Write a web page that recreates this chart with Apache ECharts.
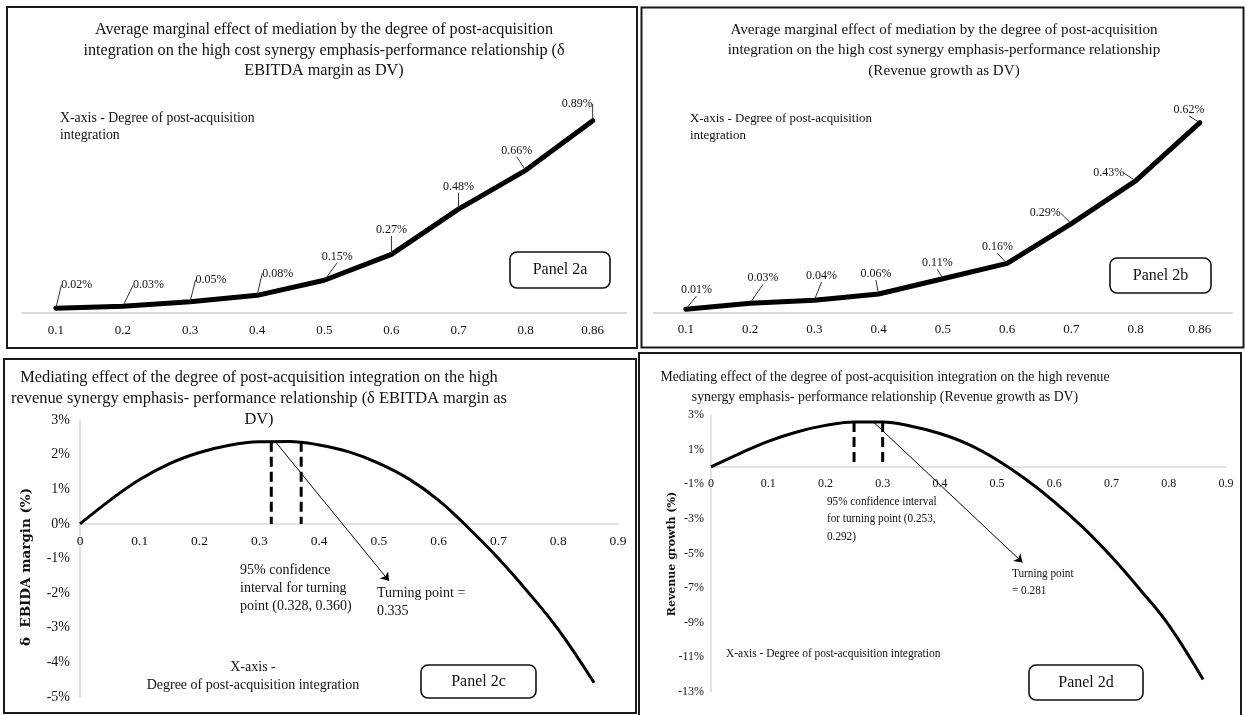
<!DOCTYPE html>
<html><head><meta charset="utf-8">
<script src="https://cdn.jsdelivr.net/npm/echarts@6/dist/echarts.min.js"></script>
<style>html,body{margin:0;padding:0;background:#fff}#c{width:1247px;height:715px}</style>
</head><body><div id="c"></div>
<script>
// ---------- data ----------
const categoriesAB = ['0.1','0.2','0.3','0.4','0.5','0.6','0.7','0.8','0.86'];
const valuesA = [0.02, 0.03, 0.05, 0.08, 0.15, 0.27, 0.48, 0.66, 0.89];
const valuesB = [0.01, 0.03, 0.04, 0.06, 0.11, 0.16, 0.29, 0.43, 0.62];
const curveC = [[0,0],[0.05,0.68],[0.1,1.28],[0.15,1.74],[0.2,2.06],[0.25,2.27],[0.3,2.37],[0.35,2.38],[0.4,2.28],[0.45,2.08],[0.5,1.75],[0.55,1.3],[0.6,0.68],[0.65,-0.12],[0.7,-1.0],[0.75,-1.98],[0.8,-3.05],[0.86,-4.59]];
const curveD = [[0,0],[0.05,0.77],[0.1,1.48],[0.15,2.02],[0.2,2.4],[0.25,2.6],[0.3,2.6],[0.35,2.35],[0.4,1.93],[0.45,1.3],[0.5,0.4],[0.55,-0.72],[0.6,-2.02],[0.65,-3.5],[0.7,-5.2],[0.75,-7.1],[0.8,-9.15],[0.86,-12.3]];
const ciXC = [0.32, 0.37];   const ciTopC = 2.37;
const ciXD = [0.25, 0.30];   const ciTopD = 2.6;
const arrowC = [[0.327, 2.37], [0.517, -1.65]];
const arrowD = [[0.283, 2.62], [0.5445, -5.53]];
const yTicksC = {min:-5, max:3, interval:1};
const yTicksD = {min:-13, max:3, interval:2};

// ---------- styling ----------
const SERIF = '"Liberation Serif", "Times New Roman", serif';
const offA = [[21,-23],[25.6,-21],[21,-22],[20.5,-22],[13,-23.6],[0,-24.4],[0,-22.4],[-9,-19.6],[-15.6,-16.7]];
const offB = [[10.6,-19.3],[12.9,-24.9],[7.2,-24.2],[-2.7,-20],[-5.5,-15.4],[-9.7,-16.1],[-26.1,-10.4],[-26.9,-7.5],[-10.8,-12.7]];
const AXIS_GRAY = '#d9d9d9';

function txt(x, y, text, size, opts) {
  opts = opts || {};
  return { type:'text', x:x, y:y, rotation: opts.rotation || 0, scaleX: opts.sx || 1, z: 50,
    style:{ text:text, fill:'#111', fontFamily: opts.family || SERIF, fontSize:size,
      fontWeight: opts.weight || 'normal', textAlign: opts.align || 'left',
      textVerticalAlign: opts.valign || 'top', lineHeight: opts.lh || size*1.2 } };
}
function border(x, y, w, h) {
  return { type:'rect', z: 40, shape:{x:x, y:y, width:w, height:h},
    style:{ fill:'none', stroke:'#1a1a1a', lineWidth:2 } };
}
function panelBox(x, y, w, h, label) {
  return [
    { type:'rect', z:40, shape:{x:x, y:y, width:w, height:h, r:7}, style:{fill:'#fff', stroke:'#111', lineWidth:1.6} },
    txt(x + w/2, y + h/2, label, 16, {align:'center', valign:'middle'})
  ];
}

function catX(gi) {
  return { type:'category', gridIndex:gi, data:categoriesAB, boundaryGap:true,
    axisTick:{show:false}, axisLine:{lineStyle:{color:AXIS_GRAY, width:2}},
    axisLabel:{color:'#111', fontFamily:SERIF, fontSize:13, margin:11} };
}
function valX(gi, size, margin, offset) {
  return { type:'value', gridIndex:gi, min:0, max:0.9, interval:0.1, offset:offset,
    axisTick:{show:false}, splitLine:{show:false},
    axisLine:{onZero:false, lineStyle:{color:AXIS_GRAY, width:1.5}},
    axisLabel:{color:'#111', fontFamily:SERIF, fontSize:size, margin:margin, showMaxLabel:true,
      formatter: v => String(Math.round(v*10)/10)} };
}
function valY(gi, t, size, margin) {
  return { type:'value', gridIndex:gi, min:t.min, max:t.max, interval:t.interval,
    axisTick:{show:false}, splitLine:{show:false},
    axisLine:{show:true, onZero:false, lineStyle:{color:AXIS_GRAY, width:1.5}},
    axisLabel:{color:'#111', fontFamily:SERIF, fontSize:size, margin:margin, formatter:'{value}%'} };
}
function dashSeries(xi, x, top) {
  return { type:'line', xAxisIndex:xi, yAxisIndex:xi, data:[[x, top],[x, 0]], symbol:'none', silent:true,
    lineStyle:{color:'#000', width:3, type:[10,5]}, z:3 };
}
function labelSeries(xi, vals, off, size) {
  return { type:'line', xAxisIndex:xi, yAxisIndex:xi, data:vals, symbol:'circle', symbolSize:2,
    showSymbol:true, silent:true, itemStyle:{color:'#000'},
    lineStyle:{color:'#000', width:5, cap:'round', join:'round'},
    label:{show:true, position:'inside', color:'#111', fontFamily:SERIF, fontSize:size,
      formatter: p => p.value.toFixed(2) + '%'},
    labelLayout: p => ({dx: off[p.dataIndex][0], dy: off[p.dataIndex][1]}),
    labelLine:{show:true, lineStyle:{color:'#333', width:1}},
    emphasis:{disabled:true} };
}
function arrowMark(pts) {
  return { silent:true, symbol:['none','arrow'], symbolSize:8, label:{show:false},
    lineStyle:{color:'#000', width:1, type:'solid'}, emphasis:{disabled:true},
    data:[[{coord:pts[0]},{coord:pts[1]}]] };
}

const graphics = [
  border(7, 7, 630, 341), border(641.5, 7.5, 602, 340), border(4, 359, 632, 354), border(639, 353, 602, 370),
  txt(324, 19.8, 'Average marginal effect of mediation by the degree of post-acquisition\nintegration on the high cost synergy emphasis-performance relationship (δ\nEBITDA margin as DV)', 16.2, {align:'center', lh:20.4}),
  txt(944, 19.8, 'Average marginal effect of mediation by the degree of post-acquisition\nintegration on the high cost synergy emphasis-performance relationship\n(Revenue growth as DV)', 15.1, {align:'center', lh:20.4}),
  txt(259, 367.5, 'Mediating effect of the degree of post-acquisition integration on the high\nrevenue synergy emphasis- performance relationship (δ EBITDA margin as\nDV)', 16.4, {align:'center', lh:21}),
  txt(885, 367, 'Mediating effect of the degree of post-acquisition integration on the high revenue\nsynergy emphasis- performance relationship (Revenue growth as DV)', 13.8, {align:'center', lh:20}),
  txt(60, 109.5, 'X-axis - Degree of post-acquisition\nintegration', 13.8, {lh:17.5}),
  txt(690, 109.5, 'X-axis - Degree of post-acquisition\nintegration', 12.9, {lh:17.5}),
  txt(240, 561, '95% confidence\ninterval for turning\npoint (0.328, 0.360)', 14, {lh:18.3}),
  txt(377, 584, 'Turning point =\n0.335', 14, {lh:18.3}),
  txt(253, 658, 'X-axis -\nDegree of post-acquisition integration', 14, {align:'center', lh:18}),
  txt(827, 493, '95% confidence interval\nfor turning point (0.253,\n0.292)', 13.5, {lh:17.2, sx:0.83}),
  txt(1012, 564.5, 'Turning point\n= 0.281', 13.5, {lh:17, sx:0.83}),
  txt(726, 653, 'X-axis - Degree of post-acquisition integration', 13.5, {valign:'middle', sx:0.85}),
  txt(26, 567, 'δ  EBIDA margin (%)', 13.5, {family:'"DejaVu Serif", serif', weight:'bold', align:'center', valign:'middle', rotation:Math.PI/2}),
  txt(672, 554, 'Revenue growth (%)', 11, {family:'"DejaVu Serif", serif', weight:'bold', align:'center', valign:'middle', rotation:Math.PI/2})
].concat(panelBox(510, 252, 100, 36, 'Panel 2a'), panelBox(1110, 258, 101, 35, 'Panel 2b'),
         panelBox(421, 665, 115, 33, 'Panel 2c'), panelBox(1029, 665, 114, 35, 'Panel 2d'));

const option = {
  animation:false,
  backgroundColor:'#fff',
  grid:[
    {left:22.3, right:620.7, top:97, bottom:402.4},
    {left:653.7, right:15, top:98.2, bottom:402.6},
    {left:80, right:629, top:420, bottom:18},
    {left:711, right:21, top:415, bottom:23.3}
  ],
  xAxis:[ catX(0), catX(1), valX(2, 13.5, 11, -173.1), valX(3, 12, 11, -224.8) ],
  yAxis:[
    {type:'value', gridIndex:0, min:0, max:1, show:false},
    {type:'value', gridIndex:1, min:0, max:0.7, show:false},
    valY(2, yTicksC, 14, 10),
    valY(3, yTicksD, 12, 7)
  ],
  series:[
    labelSeries(0, valuesA, offA, 12),
    labelSeries(1, valuesB, offB, 12),
    { type:'line', xAxisIndex:2, yAxisIndex:2, data:curveC, smooth:0.4, symbol:'none', silent:true,
      lineStyle:{color:'#000', width:3}, z:4, markLine: arrowMark(arrowC) },
    dashSeries(2, ciXC[0], ciTopC), dashSeries(2, ciXC[1], ciTopC),
    { type:'line', xAxisIndex:3, yAxisIndex:3, data:curveD, smooth:0.4, symbol:'none', silent:true,
      lineStyle:{color:'#000', width:3}, z:4, markLine: arrowMark(arrowD) },
    dashSeries(3, ciXD[0], ciTopD), dashSeries(3, ciXD[1], ciTopD)
  ],
  graphic: graphics
};
const chart = echarts.init(document.getElementById('c'), null, {renderer:'canvas'});
chart.setOption(option);
</script></body></html>
